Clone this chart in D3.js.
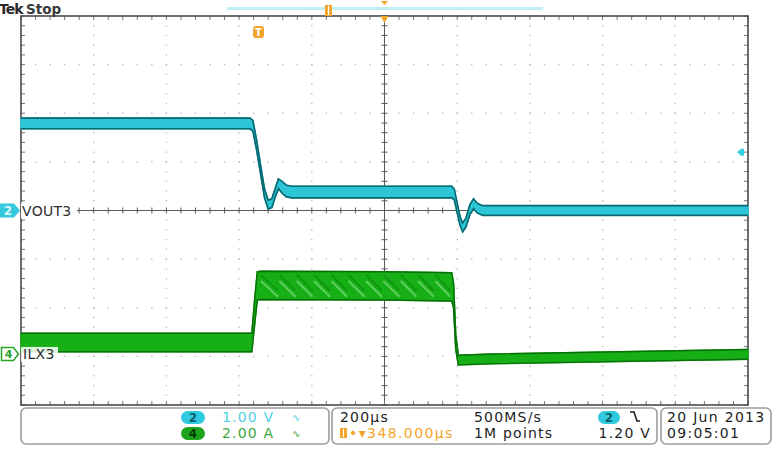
<!DOCTYPE html>
<html>
<head>
<meta charset="utf-8">
<script src="https://cdn.jsdelivr.net/npm/d3@7"></script>
<style>
  body { margin: 0; background: #fff; }
  svg { display: block; }
  text { font-family: "DejaVu Sans", sans-serif; }
</style>
</head>
<body>
<script>
//anonymous function so nothing is in global scope
(function(){
    // time base in µs, trigger at screen centre
    var timeDomain = [-1000, 1000];
    var divDomain = [-4, 4];

    // channel 2 - VOUT3, volts
    var vout3Time   = [-1000, -370, -362, -352, -340, -330, -320, -310, -300, -292, -282, -270, -255, 0, 185, 192, 200, 208, 215, 224, 235, 245, 255, 270, 1000];
    var vout3Volt   = [1.79, 1.79, 1.74, 1.35, 0.8, 0.35, 0.12, 0.15, 0.38, 0.55, 0.48, 0.4, 0.38, 0.38, 0.38, 0.33, 0.05, -0.22, -0.35, -0.25, 0.02, 0.14, 0.05, 0.0, 0.0];
    var vout3Spread = [0.11, 0.11, 0.11, 0.1, 0.09, 0.09, 0.09, 0.09, 0.09, 0.1, 0.12, 0.12, 0.12, 0.12, 0.12, 0.11, 0.1, 0.09, 0.09, 0.09, 0.1, 0.1, 0.1, 0.1, 0.1];

    // channel 4 - ILX3, amps
    var ilx3Time   = [-1000, -365, -358, -350, -340, 0, 185, 190, 196, 203, 300, 1000];
    var ilx3Amp    = [0.47, 0.47, 1.6, 2.8, 2.82, 2.8, 2.76, 2.4, 0.5, -0.25, -0.2, -0.02];
    var ilx3Spread = [0.38, 0.38, 0.5, 0.58, 0.58, 0.58, 0.58, 0.5, 0.3, 0.2, 0.2, 0.2];
    // ripple teeth seen inside the high current band
    var ilx3SawStart = [-340, -289, -241, -194, -146, -99, -51, -3, 45, 92, 140, 185];
    var ilx3SawRange = [2.35, 3.0];

    // channel setup
    var chNames  = ["VOUT3", "ILX3"];
    var chNums   = ["2", "4"];
    var chScale  = [1.00, 2.00];    // units per div
    var chUnits  = ["V", "A"];
    var chGround = [0, -2.95];      // ground marker, div from centre
    var triggerLevel = 1.20;        // V on ch 2
    var triggerPos = -348;          // µs

    // readout texts
    var timePerDiv = "200µs";
    var sampleRate = "500MS/s";
    var recordLen = "1M points";
    var horizPos = "348.000µs";
    var dateText = "20 Jun 2013";
    var timeText = "09:05:01";

    window.onload = drawScope();

    function drawScope(){
        var width = 776,
            height = 464;

        var svg = d3.select("body")
            .append("svg")
            .attr("width", width)
            .attr("height", height);

        // graticule box
        var x = d3.scaleLinear().domain(timeDomain).range([21, 748]);
        var y = d3.scaleLinear().domain(divDomain).range([405, 16]);
        var xDiv = d3.scaleLinear().domain([-5, 5]).range(x.range());

        drawGrid(svg, xDiv, y);
        drawTop(svg, x, y);

        // vout3 trace
        var yV = function(v){ return y(v / chScale[0] + chGround[0]); };
        var vout = vout3Time.map(function(t, i){
            return {t: t, v: vout3Volt[i], s: vout3Spread[i]};
        });
        drawBand(svg, vout, x, yV, "#2cc6d6", "#0a6870", 1.6);

        // ilx3 trace
        var yA = function(a){ return y(a / chScale[1] + chGround[1]); };
        var ilx = ilx3Time.map(function(t, i){
            return {t: t, v: ilx3Amp[i], s: ilx3Spread[i]};
        });
        drawBand(svg, ilx, x, yA, "#16b016", "#0a6f0a", 1.4);

        // ripple teeth
        var saw = svg.append("g").attr("class", "saw");
        for (var i = 0; i < ilx3SawStart.length - 1; i++){
            var t0 = ilx3SawStart[i], t1 = ilx3SawStart[i + 1];
            saw.append("path")
                .attr("d", d3.line()([
                    [x(t0), yA(ilx3SawRange[1])],
                    [x(t1 - 4), yA(ilx3SawRange[0])]
                ]))
                .attr("stroke", "#74d874")
                .attr("stroke-width", 2.2)
                .attr("fill", "none")
                .attr("opacity", 0.75);
            saw.append("path")
                .attr("d", d3.line()([
                    [x(t0), yA(ilx3SawRange[1] + 0.25)],
                    [x(t1 - 4), yA(ilx3SawRange[0] + 0.25)]
                ]))
                .attr("stroke", "#0c7d0c")
                .attr("stroke-width", 1.6)
                .attr("fill", "none")
                .attr("opacity", 0.6);
        }

        // trigger level marker at right side
        var ty = yV(triggerLevel);
        svg.append("path")
            .attr("d", "M" + 737 + "," + ty + " l4,-3.5 l3,0 l0,7 l-3,0 z")
            .attr("fill", "#35d0e0");

        drawChannelMarkers(svg, y);
        drawReadout(svg);
    }

    function drawBand(svg, data, x, yf, fill, edge, ew){
        var area = d3.area()
            .x(function(d){ return x(d.t); })
            .y0(function(d){ return yf(d.v - d.s); })
            .y1(function(d){ return yf(d.v + d.s); });
        svg.append("path")
            .datum(data)
            .attr("d", area)
            .attr("fill", fill)
            .attr("stroke", fill)
            .attr("stroke-width", 1.5);
        var top = d3.line()
            .x(function(d){ return x(d.t); })
            .y(function(d){ return yf(d.v + d.s); });
        var bot = d3.line()
            .x(function(d){ return x(d.t); })
            .y(function(d){ return yf(d.v - d.s); });
        svg.append("path").datum(data).attr("d", top)
            .attr("fill", "none").attr("stroke", edge).attr("stroke-width", ew);
        svg.append("path").datum(data).attr("d", bot)
            .attr("fill", "none").attr("stroke", edge).attr("stroke-width", ew);
    }

    function drawGrid(svg, xDiv, y){
        var g = svg.append("g").attr("class", "grid");
        var majX = d3.range(-4, 5), majY = d3.range(-3, 4);
        var minX = d3.range(-25, 26).map(function(d){ return d / 5; });
        var minY = d3.range(-20, 21).map(function(d){ return d / 5; });

        // dotted major lines
        majX.forEach(function(dx){
            if (dx === 0) return;
            g.selectAll(null).data(minY).enter().append("rect")
                .attr("x", xDiv(dx) - 0.7).attr("y", function(d){ return y(d) - 0.7; })
                .attr("width", 1.4).attr("height", 1.4)
                .attr("fill", "#bdbdbd");
        });
        majY.forEach(function(dy){
            if (dy === 0) return;
            g.selectAll(null).data(minX).enter().append("rect")
                .attr("x", function(d){ return xDiv(d) - 0.7; }).attr("y", y(dy) - 0.7)
                .attr("width", 1.4).attr("height", 1.4)
                .attr("fill", "#bdbdbd");
        });

        // centre cross
        var cx = xDiv(0), cy = y(0);
        g.append("line").attr("x1", xDiv(-5)).attr("x2", xDiv(5))
            .attr("y1", cy).attr("y2", cy).attr("stroke", "#5a5a5a").attr("stroke-width", 1);
        g.append("line").attr("x1", cx).attr("x2", cx)
            .attr("y1", y(4)).attr("y2", y(-4)).attr("stroke", "#5a5a5a").attr("stroke-width", 1);
        g.selectAll(null).data(minX).enter().append("line")
            .attr("x1", function(d){ return xDiv(d); }).attr("x2", function(d){ return xDiv(d); })
            .attr("y1", cy - 3).attr("y2", cy + 3)
            .attr("stroke", "#5a5a5a");
        g.selectAll(null).data(minY).enter().append("line")
            .attr("y1", function(d){ return y(d); }).attr("y2", function(d){ return y(d); })
            .attr("x1", cx - 3).attr("x2", cx + 3)
            .attr("stroke", "#5a5a5a");

        // edge ticks
        g.selectAll(null).data(minX).enter().append("line")
            .attr("x1", function(d){ return xDiv(d); }).attr("x2", function(d){ return xDiv(d); })
            .attr("y1", y(4)).attr("y2", y(4) + 4).attr("stroke", "#777");
        g.selectAll(null).data(minX).enter().append("line")
            .attr("x1", function(d){ return xDiv(d); }).attr("x2", function(d){ return xDiv(d); })
            .attr("y1", y(-4)).attr("y2", y(-4) - 4).attr("stroke", "#777");
        g.selectAll(null).data(minY).enter().append("line")
            .attr("y1", function(d){ return y(d); }).attr("y2", function(d){ return y(d); })
            .attr("x1", xDiv(-5)).attr("x2", xDiv(-5) + 4).attr("stroke", "#777");
        g.selectAll(null).data(minY).enter().append("line")
            .attr("y1", function(d){ return y(d); }).attr("y2", function(d){ return y(d); })
            .attr("x1", xDiv(5)).attr("x2", xDiv(5) - 4).attr("stroke", "#777");

        // outer border
        g.append("rect")
            .attr("x", xDiv(-5)).attr("y", y(4))
            .attr("width", xDiv(5) - xDiv(-5)).attr("height", y(-4) - y(4))
            .attr("fill", "none").attr("stroke", "#4a4a4a").attr("stroke-width", 1.6);
    }

    function drawTop(svg, x, y){
        svg.append("text").attr("x", -1).attr("y", 14)
            .attr("font-size", 14).attr("font-weight", "bold").attr("fill", "#2a2a2a")
            .attr("letter-spacing", -1)
            .text("Tek");
        svg.append("text").attr("x", 26).attr("y", 14)
            .attr("font-size", 13.5).attr("font-weight", "bold").attr("fill", "#3a3a3a")
            .text("Stop");

        // record view bar
        svg.append("rect").attr("x", 227).attr("y", 7).attr("width", 316).attr("height", 3)
            .attr("fill", "#bfeef6");
        svg.append("rect").attr("x", 325).attr("y", 5).attr("width", 7).attr("height", 11)
            .attr("fill", "#f3a42a");
        svg.append("line").attr("x1", 328.5).attr("x2", 328.5).attr("y1", 6).attr("y2", 15)
            .attr("stroke", "#fff").attr("stroke-width", 1.3);
        svg.append("path").attr("d", "M381,1 l7,0 l-3.5,4 z").attr("fill", "#f3a42a");

        // trigger point on the top edge
        var cx = x(0);
        svg.append("path").attr("d", "M" + (cx - 4) + ",16 l8,0 l-4,7 z").attr("fill", "#f3a42a");

        // trigger position badge
        var tx = x(triggerPos);
        svg.append("rect").attr("x", tx - 5).attr("y", 26).attr("width", 11).attr("height", 12)
            .attr("rx", 3).attr("fill", "#f3a42a");
        svg.append("text").attr("x", tx + 0.5).attr("y", 36).attr("text-anchor", "middle")
            .attr("font-size", 10).attr("font-weight", "bold").attr("fill", "#fff").text("T");
    }

    function drawChannelMarkers(svg, y){
        // ch2 marker, filled cyan
        var y2 = y(chGround[0]);
        svg.append("path")
            .attr("d", "M0," + (y2 - 7) + " l14,0 l6,7 l-6,7 l-14,0 z")
            .attr("fill", "#35c9dd");
        svg.append("text").attr("x", 8).attr("y", y2 + 4.5).attr("text-anchor", "middle")
            .attr("font-size", 12).attr("font-weight", "bold").attr("fill", "#d9f7fb").text(chNums[0]);
        svg.append("rect").attr("x", 21).attr("y", y2 - 8).attr("width", 56).attr("height", 16)
            .attr("fill", "#fff");
        svg.append("text").attr("x", 22).attr("y", y2 + 5)
            .attr("font-size", 14).attr("fill", "#2e2e2e").attr("letter-spacing", 0.3).text(chNames[0]);

        // ch4 marker, outlined green
        var y4 = y(chGround[1]);
        svg.append("path")
            .attr("d", "M1.5," + (y4 - 6.5) + " l12,0 l5,6.5 l-5,6.5 l-12,0 z")
            .attr("fill", "#fff").attr("stroke", "#2aa52a").attr("stroke-width", 1.5);
        svg.append("text").attr("x", 8.5).attr("y", y4 + 4.5).attr("text-anchor", "middle")
            .attr("font-size", 11).attr("font-weight", "bold").attr("fill", "#2aa52a").text(chNums[1]);
        svg.append("rect").attr("x", 21).attr("y", y4 - 7).attr("width", 37).attr("height", 15)
            .attr("fill", "#fff").attr("opacity", 0.85);
        svg.append("text").attr("x", 23).attr("y", y4 + 5)
            .attr("font-size", 14).attr("fill", "#2e2e2e").attr("letter-spacing", 0.3).text(chNames[1]);
    }

    function drawReadout(svg){
        var boxes = [[21, 329], [332, 657], [661, 771]];
        svg.selectAll(".rbox").data(boxes).enter().append("rect")
            .attr("class", "rbox")
            .attr("x", function(d){ return d[0]; }).attr("y", 408)
            .attr("width", function(d){ return d[1] - d[0]; }).attr("height", 36)
            .attr("rx", 5)
            .attr("fill", "#fff").attr("stroke", "#9c9c9c").attr("stroke-width", 1.6);

        var r1 = 422, r2 = 438;
        var chFill = ["#2fc9e0", "#1ea51e"], chText = ["#4fd0e6", "#3aa83a"], chNumTxt = ["#0b5d69", "#063d06"];
        [r1, r2].forEach(function(by, i){
            svg.append("rect").attr("x", 181).attr("y", by - 11).attr("width", 24).attr("height", 13)
                .attr("rx", 6.5).attr("fill", chFill[i]);
            svg.append("text").attr("x", 193).attr("y", by).attr("text-anchor", "middle")
                .attr("font-size", 12).attr("font-weight", "bold").attr("fill", chNumTxt[i]).text(chNums[i]);
            svg.append("text").attr("x", 222).attr("y", by)
                .attr("font-size", 14).attr("letter-spacing", 1.2).attr("fill", chText[i])
                .text(chScale[i].toFixed(2) + " " + chUnits[i]);
            svg.append("text").attr("x", 292).attr("y", by - 1)
                .attr("font-size", 10).attr("fill", chText[i]).text("\u223F");
        });

        var dark = "#1e1e1e";
        svg.append("text").attr("x", 340).attr("y", r1).attr("font-size", 14)
            .attr("letter-spacing", 1.2).attr("fill", dark).text(timePerDiv);
        svg.append("rect").attr("x", 340).attr("y", r2 - 10).attr("width", 7).attr("height", 10)
            .attr("fill", "#f3a42a");
        svg.append("line").attr("x1", 343.5).attr("x2", 343.5).attr("y1", r2 - 9).attr("y2", r2 - 1)
            .attr("stroke", "#fff").attr("stroke-width", 1.2);
        svg.append("text").attr("x", 349).attr("y", r2).attr("font-size", 14)
            .attr("letter-spacing", 1.4).attr("fill", "#f3a42a").text("\u2022\u25BE" + horizPos);

        svg.append("text").attr("x", 474).attr("y", r1).attr("font-size", 14)
            .attr("letter-spacing", 1.2).attr("fill", dark).text(sampleRate);
        svg.append("text").attr("x", 474).attr("y", r2).attr("font-size", 14)
            .attr("letter-spacing", 1.2).attr("fill", dark).text(recordLen);

        svg.append("rect").attr("x", 598).attr("y", r1 - 11).attr("width", 22).attr("height", 13)
            .attr("rx", 6.5).attr("fill", chFill[0]);
        svg.append("text").attr("x", 609).attr("y", r1).attr("text-anchor", "middle")
            .attr("font-size", 12).attr("font-weight", "bold").attr("fill", chNumTxt[0]).text(chNums[0]);
        svg.append("path").attr("d", "M630," + (r1 - 10) + " l4,0 l3,9 l3,0")
            .attr("fill", "none").attr("stroke", dark).attr("stroke-width", 1.6);
        svg.append("text").attr("x", 651).attr("y", r2).attr("text-anchor", "end").attr("font-size", 14)
            .attr("letter-spacing", 1.2).attr("fill", dark).text(triggerLevel.toFixed(2) + " " + chUnits[0]);

        svg.append("text").attr("x", 667).attr("y", r1).attr("font-size", 14)
            .attr("letter-spacing", 1.3).attr("fill", dark).text(dateText);
        svg.append("text").attr("x", 667).attr("y", r2).attr("font-size", 14)
            .attr("letter-spacing", 1.3).attr("fill", dark).text(timeText);
    }

})();
</script>
</body>
</html>
